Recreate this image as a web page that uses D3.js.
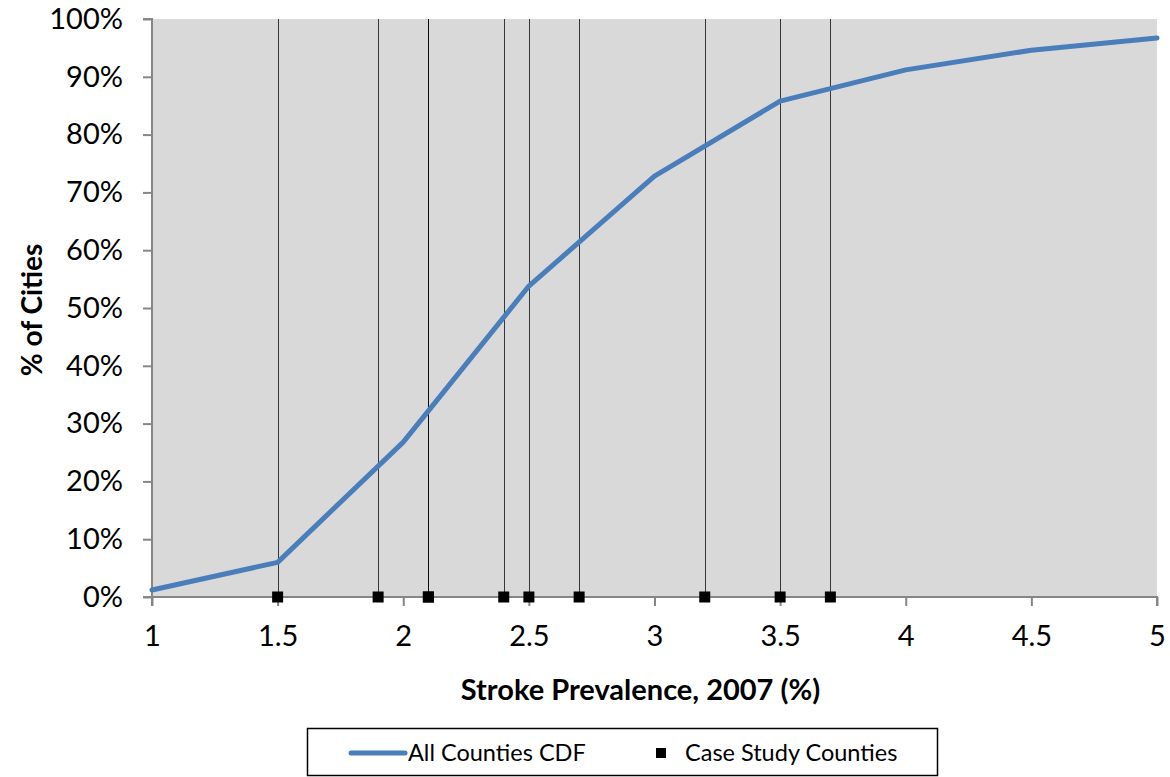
<!DOCTYPE html>
<html>
<head>
<meta charset="utf-8">
<script src="https://cdn.jsdelivr.net/npm/d3@7"></script>
<style>
  html, body { margin: 0; padding: 0; background: #fff; }
  svg { display: block; font-family: Lato, "Open Sans", sans-serif; }
</style>
</head>
<body>
<svg id="chart" width="1170" height="777"></svg>
<script>
// Cumulative distribution of stroke prevalence across all counties
const cdfPrevalence = [1, 1.5, 2, 2.5, 3, 3.5, 4, 4.5, 5];
const cdfShare = [0.012, 0.06, 0.268, 0.538, 0.728, 0.858, 0.912, 0.946, 0.967];

// Prevalence of the case study counties
const casePrevalence = [1.5, 1.9, 2.1, 2.1, 2.4, 2.5, 2.7, 3.2, 3.5, 3.7];

const xTicks = [1, 1.5, 2, 2.5, 3, 3.5, 4, 4.5, 5];
const yTicks = [0, 0.1, 0.2, 0.3, 0.4, 0.5, 0.6, 0.7, 0.8, 0.9, 1];

const svg = d3.select("#chart");
const plot = { left: 152, right: 1157, top: 19, bottom: 597 };

const x = d3.scaleLinear().domain([1, 5]).range([plot.left, plot.right]);
const y = d3.scaleLinear().domain([0, 1]).range([plot.bottom, plot.top]);

// plot area background
svg.append("rect")
  .attr("x", plot.left).attr("y", plot.top)
  .attr("width", plot.right - plot.left)
  .attr("height", plot.bottom - plot.top)
  .attr("fill", "#d9d9d9");

// vertical drop lines for each case study county
svg.append("g").selectAll("line")
  .data(casePrevalence)
  .join("line")
  .attr("x1", d => Math.round(x(d)) + 0.5)
  .attr("x2", d => Math.round(x(d)) + 0.5)
  .attr("y1", plot.top)
  .attr("y2", plot.bottom)
  .attr("stroke", "#000")
  .attr("stroke-opacity", 0.75)
  .attr("stroke-width", 1);

// axes
const yAxis = d3.axisLeft(y)
  .tickValues(yTicks)
  .tickFormat(d3.format(".0%"))
  .tickSize(9)
  .tickPadding(20);
const gy = svg.append("g")
  .attr("transform", `translate(${plot.left},0)`)
  .call(yAxis);

const xAxis = d3.axisBottom(x)
  .tickValues(xTicks)
  .tickFormat(d => String(d))
  .tickSize(9)
  .tickPadding(19);
const gx = svg.append("g")
  .attr("transform", `translate(0,${plot.bottom})`)
  .call(xAxis);

[gx, gy].forEach(g => {
  g.select(".domain").attr("stroke", "#868686").attr("stroke-width", 2);
  g.selectAll(".tick line").attr("stroke", "#868686").attr("stroke-width", 2);
  g.selectAll(".tick text")
    .attr("fill", "#000")
    .style("font-size", "29px")
    .style("font-family", "Lato, 'Open Sans', sans-serif");
});
gy.select(".domain").attr("d", `M-9,${plot.bottom}H0V${plot.top}H-9`);
gx.select(".domain").attr("d", `M${plot.left},9V0H${plot.right}V9`);

// CDF line
const line = d3.line()
  .x((d, i) => x(cdfPrevalence[i]))
  .y(d => y(d));
svg.append("path")
  .datum(cdfShare)
  .attr("d", line)
  .attr("fill", "none")
  .attr("stroke", "#4a7ebb")
  .attr("stroke-width", 5)
  .attr("stroke-linejoin", "round")
  .attr("stroke-linecap", "round");

// case study markers
const ms = 11;
svg.append("g").selectAll("rect")
  .data(casePrevalence)
  .join("rect")
  .attr("x", d => x(d) - ms / 2)
  .attr("y", y(0) - ms / 2)
  .attr("width", ms)
  .attr("height", ms)
  .attr("fill", "#000");

// axis titles
svg.append("text")
  .attr("x", (plot.left + plot.right) / 2 - 14)
  .attr("y", 700)
  .attr("text-anchor", "middle")
  .style("font-size", "29px")
  .style("font-weight", "bold")
  .text("Stroke Prevalence, 2007 (%)");

svg.append("text")
  .attr("transform", `translate(42,310) rotate(-90)`)
  .attr("text-anchor", "middle")
  .style("font-size", "28px")
  .style("font-weight", "bold")
  .text("% of Cities");

// legend
const legend = svg.append("g");
legend.append("rect")
  .attr("x", 307.5).attr("y", 728.5)
  .attr("width", 630).attr("height", 47)
  .attr("fill", "#fff")
  .attr("stroke", "#000")
  .attr("stroke-width", 1.5);
legend.append("line")
  .attr("x1", 351).attr("x2", 405)
  .attr("y1", 753).attr("y2", 753)
  .attr("stroke", "#4a7ebb")
  .attr("stroke-width", 5)
  .attr("stroke-linecap", "round");
legend.append("text")
  .attr("x", 408).attr("y", 761)
  .style("font-size", "23.5px")
  .text("All Counties CDF");
legend.append("rect")
  .attr("x", 656).attr("y", 748)
  .attr("width", 10).attr("height", 10)
  .attr("fill", "#000");
legend.append("text")
  .attr("x", 685).attr("y", 761)
  .style("font-size", "23.5px")
  .text("Case Study Counties");
</script>
</body>
</html>
